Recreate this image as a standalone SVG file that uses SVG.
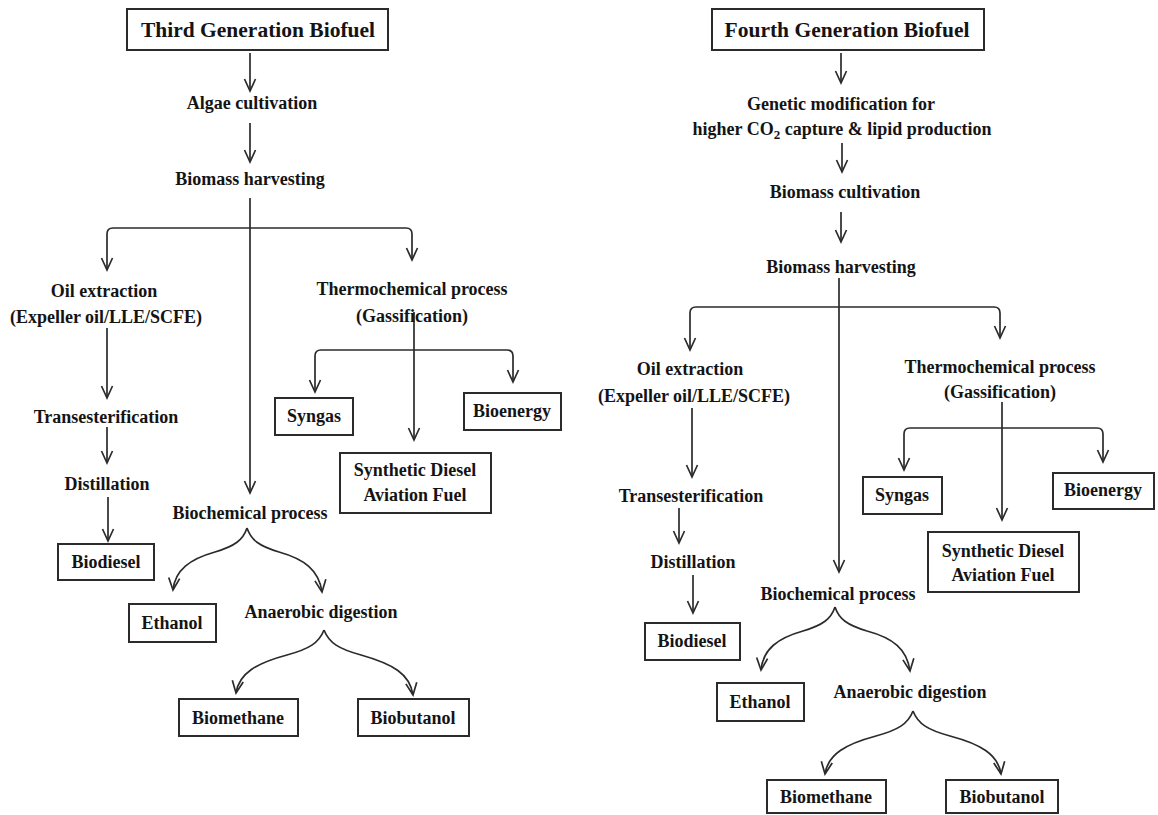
<svg xmlns="http://www.w3.org/2000/svg" width="1158" height="815" viewBox="0 0 1158 815">
<defs>
<style>
.t{font-family:"Liberation Serif","Times New Roman",serif;font-weight:bold;font-size:18px;fill:#141414;text-anchor:middle}
.ttl{font-size:21.5px}
.box{fill:#fff;stroke:#2b2b2b;stroke-width:2}
.c{fill:none;stroke:#2b2b2b;stroke-width:1.7}
.a{marker-end:url(#ah)}
</style>
<marker id="ah" markerUnits="userSpaceOnUse" viewBox="-14 -8 16 16" markerWidth="16" markerHeight="16" refX="0" refY="0" orient="auto" overflow="visible">
<path d="M-12,-5.5 L0,0 L-12,5.5" fill="none" stroke="#2b2b2b" stroke-width="1.7"/>
</marker>
</defs>
<rect width="1158" height="815" fill="#fff"/>

<g id="connectors">
<!-- left panel -->
<path class="c a" d="M250,53 V91"/>
<path class="c a" d="M250,123 V162"/>
<path class="c a" d="M250,198 V493"/>
<path class="c a" d="M107,234 V270"/>
<path class="c" d="M107,234 Q107,228 113,228 H406 Q412,228 412,234"/>
<path class="c a" d="M412,234 V260"/>
<path class="c a" d="M107,328 V398"/>
<path class="c a" d="M107,427 V463"/>
<path class="c a" d="M108,497 V541"/>
<path class="c a" d="M414,312 V440"/>
<path class="c a" d="M315,356 V392"/>
<path class="c" d="M315,356 Q315,350 321,350 H507 Q513,350 513,356"/>
<path class="c a" d="M513,356 V382"/>
<path class="c a" d="M247,528 C243,540 235,546 215,552 C190,559 175,570 173,590"/>
<path class="c a" d="M247,528 C251,540 259,546 279,552 C304,559 319,570 322,592"/>
<path class="c a" d="M324,630 C319,643 309,649 287,655 C257,663 239,673 236,693"/>
<path class="c a" d="M324,630 C329,643 339,649 361,655 C393,664 410,674 413,695"/>
<!-- right panel -->
<path class="c a" d="M841,53 V83"/>
<path class="c a" d="M842,143 V172"/>
<path class="c a" d="M841,212 V242"/>
<path class="c a" d="M839,278 V572"/>
<path class="c a" d="M690,313 V350"/>
<path class="c" d="M690,313 Q690,307 696,307 H994 Q1000,307 1000,313"/>
<path class="c a" d="M1000,313 V338"/>
<path class="c a" d="M692,408 V477"/>
<path class="c a" d="M679,508 V543"/>
<path class="c a" d="M693,575 V613"/>
<path class="c a" d="M1002,402 V520"/>
<path class="c a" d="M904,434 V470"/>
<path class="c" d="M904,434 Q904,428 910,428 H1097 Q1103,428 1103,434"/>
<path class="c a" d="M1103,434 V462"/>
<path class="c a" d="M835,607 C831,619 823,625 803,631 C778,638 763,649 761,670"/>
<path class="c a" d="M835,607 C839,619 847,625 867,631 C893,638 907,649 910,671"/>
<path class="c a" d="M913,711 C908,724 898,730 876,736 C846,744 828,754 825,774"/>
<path class="c a" d="M913,711 C918,724 928,730 950,736 C980,744 998,754 1001,774"/>
</g>

<!-- Left: Third generation -->
<g id="third-title"><rect class="box" x="127" y="9" width="261" height="41"/><text class="t ttl" x="258" y="37">Third Generation Biofuel</text></g>
<g id="third-algae"><text class="t" x="252" y="109">Algae cultivation</text></g>
<g id="third-harvest"><text class="t" x="250" y="185">Biomass harvesting</text></g>
<g id="third-oil"><text class="t" x="104" y="297">Oil extraction</text><text class="t" x="106" y="323">(Expeller oil/LLE/SCFE)</text></g>
<g id="third-trans"><text class="t" x="106" y="423">Transesterification</text></g>
<g id="third-distill"><text class="t" x="107" y="490">Distillation</text></g>
<g id="third-biodiesel"><rect class="box" x="58" y="544" width="96" height="36"/><text class="t" x="106" y="568">Biodiesel</text></g>
<g id="third-thermo"><text class="t" x="412" y="295">Thermochemical process</text><text class="t" x="412" y="322">(Gassification)</text></g>
<g id="third-syngas"><rect class="box" x="275" y="398" width="78" height="37"/><text class="t" x="314" y="422">Syngas</text></g>
<g id="third-bioenergy"><rect class="box" x="464" y="393" width="97" height="37"/><text class="t" x="512" y="417">Bioenergy</text></g>
<g id="third-synthetic"><rect class="box" x="340" y="453" width="151" height="60"/><text class="t" x="415" y="476">Synthetic Diesel</text><text class="t" x="415" y="501">Aviation Fuel</text></g>
<g id="third-biochem"><text class="t" x="250" y="519">Biochemical process</text></g>
<g id="third-ethanol"><rect class="box" x="129" y="604" width="87" height="38"/><text class="t" x="172" y="629">Ethanol</text></g>
<g id="third-anaerobic"><text class="t" x="321" y="618">Anaerobic digestion</text></g>
<g id="third-biomethane"><rect class="box" x="179" y="699" width="119" height="37"/><text class="t" x="238" y="724">Biomethane</text></g>
<g id="third-biobutanol"><rect class="box" x="358" y="699" width="111" height="37"/><text class="t" x="413" y="724">Biobutanol</text></g>

<!-- Right: Fourth generation -->
<g id="fourth-title"><rect class="box" x="712" y="9" width="272" height="41"/><text class="t ttl" x="847" y="37">Fourth Generation Biofuel</text></g>
<g id="fourth-genetic"><text class="t" x="841" y="110">Genetic modification for</text><text class="t" x="842" y="135">higher CO<tspan font-size="13" dy="4">2</tspan><tspan dy="-4"> capture &amp; lipid production</tspan></text></g>
<g id="fourth-cultivation"><text class="t" x="845" y="198">Biomass cultivation</text></g>
<g id="fourth-harvest"><text class="t" x="841" y="273">Biomass harvesting</text></g>
<g id="fourth-oil"><text class="t" x="690" y="375">Oil extraction</text><text class="t" x="694" y="402">(Expeller oil/LLE/SCFE)</text></g>
<g id="fourth-trans"><text class="t" x="691" y="502">Transesterification</text></g>
<g id="fourth-distill"><text class="t" x="693" y="568">Distillation</text></g>
<g id="fourth-biodiesel"><rect class="box" x="645" y="623" width="95" height="37"/><text class="t" x="692" y="647">Biodiesel</text></g>
<g id="fourth-thermo"><text class="t" x="1000" y="373">Thermochemical process</text><text class="t" x="1000" y="398">(Gassification)</text></g>
<g id="fourth-syngas"><rect class="box" x="863" y="477" width="79" height="37"/><text class="t" x="902" y="501">Syngas</text></g>
<g id="fourth-bioenergy"><rect class="box" x="1053" y="473" width="101" height="36"/><text class="t" x="1103" y="496">Bioenergy</text></g>
<g id="fourth-synthetic"><rect class="box" x="928" y="532" width="151" height="60"/><text class="t" x="1003" y="557">Synthetic Diesel</text><text class="t" x="1003" y="581">Aviation Fuel</text></g>
<g id="fourth-biochem"><text class="t" x="838" y="600">Biochemical process</text></g>
<g id="fourth-ethanol"><rect class="box" x="717" y="683" width="87" height="38"/><text class="t" x="760" y="708">Ethanol</text></g>
<g id="fourth-anaerobic"><text class="t" x="910" y="698">Anaerobic digestion</text></g>
<g id="fourth-biomethane"><rect class="box" x="767" y="780" width="119" height="33"/><text class="t" x="826" y="803">Biomethane</text></g>
<g id="fourth-biobutanol"><rect class="box" x="946" y="780" width="112" height="33"/><text class="t" x="1002" y="803">Biobutanol</text></g>
</svg>
